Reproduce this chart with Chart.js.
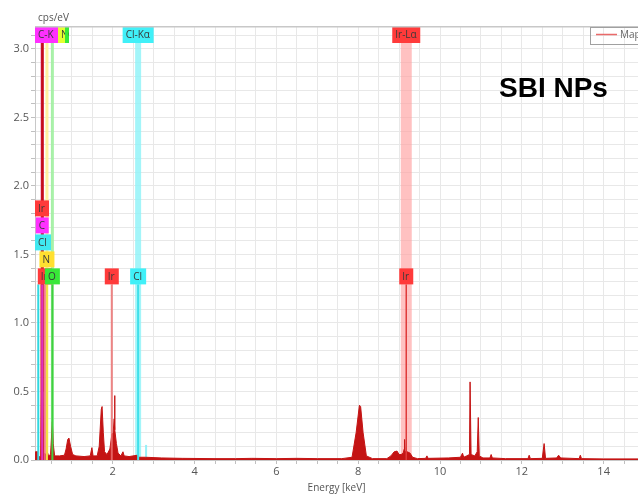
<!DOCTYPE html>
<html>
<head>
<meta charset="utf-8">
<script src="https://cdn.jsdelivr.net/npm/chart.js@4.4.1/dist/chart.umd.min.js"></script>
<style>
  html, body { margin: 0; padding: 0; background: #fff; overflow: hidden; }
  #wrap { width: 638px; height: 496px; }
</style>
</head>
<body>
<div id="wrap"><canvas id="edsChart" width="638" height="496"></canvas></div>
<script>
// spectrum (keV / cps per eV)
var energy = [0.10, 0.11, 0.17, 0.19, 0.24, 0.26, 0.275, 0.29, 0.31, 0.38, 0.40, 0.43, 0.48, 0.51, 0.525, 0.545, 0.58,
  0.70, 0.82, 0.86, 0.90, 0.93, 0.97, 1.02, 1.10, 1.30, 1.45, 1.49, 1.52, 1.62, 1.67, 1.72, 1.74, 1.77, 1.80, 1.86,
  1.93, 1.98, 2.01, 2.035, 2.045, 2.055, 2.09, 2.13, 2.20, 2.25, 2.28, 2.40, 2.60, 2.65, 2.80, 3.20, 3.70, 4.50,
  5.00, 5.40, 6.00, 6.50, 7.00, 7.60, 7.85, 7.95, 8.03, 8.06, 8.12, 8.20, 8.35, 8.70, 8.80, 8.88, 8.95, 9.00,
  9.05, 9.10, 9.125, 9.135, 9.145, 9.20, 9.27, 9.33, 9.45, 9.65, 9.68, 9.71, 10.20, 10.50, 10.55, 10.58, 10.65,
  10.72, 10.735, 10.745, 10.76, 10.85, 10.91, 10.935, 10.945, 10.96, 11.05, 11.22, 11.25, 11.28, 11.60, 12.15,
  12.18, 12.21, 12.50, 12.545, 12.555, 12.58, 12.85, 12.90, 12.95, 13.40, 13.43, 13.46, 14.00, 15.00];
var counts = [0.0, 0.06, 0.06, 0.02, 0.03, 0.5, 4.0, 0.5, 0.05, 0.04, 0.06, 0.03, 0.04, 0.2, 0.28, 0.12, 0.03,
  0.03, 0.035, 0.08, 0.15, 0.16, 0.1, 0.04, 0.03, 0.025, 0.03, 0.09, 0.03, 0.03, 0.1, 0.37, 0.39, 0.2, 0.06, 0.04,
  0.08, 0.19, 0.2, 0.3, 0.47, 0.22, 0.12, 0.05, 0.03, 0.06, 0.03, 0.025, 0.035, 0.02, 0.02, 0.015, 0.012, 0.01,
  0.01, 0.012, 0.01, 0.012, 0.01, 0.01, 0.02, 0.2, 0.40, 0.39, 0.2, 0.03, 0.01, 0.01, 0.03, 0.06, 0.065, 0.04,
  0.04, 0.05, 0.08, 0.15, 0.06, 0.06, 0.05, 0.02, 0.01, 0.012, 0.03, 0.012, 0.015, 0.02, 0.05, 0.02, 0.03,
  0.04, 0.57, 0.57, 0.04, 0.03, 0.06, 0.31, 0.31, 0.03, 0.015, 0.015, 0.04, 0.015, 0.01, 0.01,
  0.035, 0.01, 0.012, 0.12, 0.12, 0.012, 0.015, 0.035, 0.015, 0.01, 0.035, 0.01, 0.008, 0.008];

// element markers with full-height bands and labels at the top
var topNames = ['C-K', 'N-K', 'O-K', 'Cl-Kα', 'Ir-Lα'];
var topEnergies = [0.277, 0.392, 0.525, 2.621, 9.175];

// element markers labelled in the row lower down
var lowNames = ['Ir', 'C', 'Cl', 'N', 'Ir', 'O', 'Ir', 'Cl', 'Ir'];
var lowEnergies = [0.26, 0.277, 0.18, 0.392, 0.34, 0.525, 1.977, 2.621, 9.175];

// faint unlabelled line (Cl Kβ)
var faintEnergies = [2.815];
var faintHeights = [0.11];

// styles
var topBoxColors = ['#ff30ff', '#e4ff30', '#38e838', '#40f0f8', '#ff3a3a'];
var topBandColors = ['#d0105a', 'rgba(255,240,150,0.9)', 'rgba(160,240,160,0.9)', 'rgba(140,242,248,0.8)', 'rgba(255,160,160,0.65)'];
var topBandWidths = [3, 3, 3, 6, 11];
var topBoxWidths = [null, 7, 4, null, null];
var lowBoxColors = ['#ff3a3a', '#ff30ff', '#40e8f0', '#ffe030', '#ff3a3a', '#38e838', '#ff3a3a', '#40f0f8', '#ff3a3a'];
var lowLineColors = ['#e0203a', '#e030c0', '#30d8e0', '#f0e040', 'rgba(240,110,130,0.9)', '#40d040',
  'rgba(235,110,110,0.85)', '#40e0ea', '#e03a3a'];
var lowLineWidths = [2, 2, 2, 2, 2, 2, 2, 2, 1.5];
var lowLevels = [4, 3, 2, 1, 0, 0, 0, 0, 0];
var labelRow = 1.34;
var boxH = 16;
var boxStep = 17;
var labelFont = '10px "Open Sans", sans-serif';

var markerPlugin = {
  id: 'markers',
  beforeDatasetsDraw: function (chart) {
    var ctx = chart.ctx, a = chart.chartArea, xs = chart.scales.x, ys = chart.scales.y;
    ctx.save();
    var bandTop = a.top + boxH;
    topEnergies.forEach(function (e, i) {
      var px = xs.getPixelForValue(e);
      ctx.fillStyle = topBandColors[i];
      ctx.fillRect(px - topBandWidths[i] / 2, bandTop, topBandWidths[i], a.bottom - bandTop);
    });
    faintEnergies.forEach(function (e, i) {
      var px = xs.getPixelForValue(e);
      var py = ys.getPixelForValue(faintHeights[i]);
      ctx.fillStyle = 'rgba(140,240,248,0.9)';
      ctx.fillRect(px - 1, py, 2, a.bottom - py);
    });
    ctx.restore();
  },
  afterDatasetsDraw: function (chart) {
    var ctx = chart.ctx, a = chart.chartArea, xs = chart.scales.x, ys = chart.scales.y;
    ctx.save();
    ctx.font = labelFont;
    ctx.textBaseline = 'middle';

    // lower marker lines
    var rowCenter = ys.getPixelForValue(labelRow);
    var rowBottom = rowCenter + boxH / 2;
    lowEnergies.forEach(function (e, i) {
      var px = xs.getPixelForValue(e);
      ctx.fillStyle = lowLineColors[i];
      ctx.fillRect(px - lowLineWidths[i] / 2, rowBottom, lowLineWidths[i], a.bottom - rowBottom);
    });

    function box(text, left, top, w, color) {
      ctx.fillStyle = color;
      ctx.fillRect(left, top, w, boxH);
      ctx.save();
      ctx.beginPath();
      ctx.rect(left, top, w, boxH);
      ctx.clip();
      ctx.fillStyle = '#3a3a3a';
      ctx.fillText(text, left + 3, top + boxH / 2 + 0.5);
      ctx.restore();
    }

    // lower labels
    lowNames.forEach(function (n, i) {
      var px = xs.getPixelForValue(lowEnergies[i]);
      var w = Math.round(ctx.measureText(n).width) + 7;
      var left = Math.max(a.left, px - w / 2);
      var top = rowCenter - boxH / 2 - lowLevels[i] * boxStep;
      box(n, left, top, w, lowBoxColors[i]);
    });

    // top labels, packed left to right
    var prevRight = a.left;
    topNames.forEach(function (n, i) {
      var px = xs.getPixelForValue(topEnergies[i]);
      var w = topBoxWidths[i] || Math.round(ctx.measureText(n).width) + 7;
      var left = Math.max(prevRight, px - w / 2);
      box(n, left, a.top, w, topBoxColors[i]);
      prevRight = left + w;
    });

    // top frame line
    ctx.fillStyle = '#c8c8c8';
    ctx.fillRect(a.left, a.top - 1, a.right - a.left, 1.5);

    // y unit
    ctx.fillStyle = '#555';
    ctx.font = '10px "Open Sans", sans-serif';
    ctx.textAlign = 'left';
    ctx.fillText('cps/eV', 38, 18);

    // legend (cut by the right edge)
    ctx.strokeStyle = '#a0a0a0';
    ctx.lineWidth = 1;
    ctx.strokeRect(590.5, a.top + 0.5, 60, 17);
    ctx.strokeStyle = 'rgba(232,90,90,0.9)';
    ctx.lineWidth = 1.5;
    ctx.beginPath();
    ctx.moveTo(596, 34.5);
    ctx.lineTo(617, 34.5);
    ctx.stroke();
    ctx.fillStyle = '#666';
    ctx.fillText('Map', 620, 35);

    // sample name
    ctx.fillStyle = '#000';
    ctx.font = 'bold 28px "Liberation Sans", Arial, sans-serif';
    ctx.fillText('SBI NPs', 499, 89);
    ctx.restore();
  }
};

var points = energy.map(function (e, i) { return { x: e, y: counts[i] }; });

new Chart(document.getElementById('edsChart').getContext('2d'), {
  type: 'line',
  data: {
    datasets: [{
      label: 'Map',
      data: points,
      borderColor: '#c41414',
      backgroundColor: '#c41414',
      borderWidth: 1,
      pointRadius: 0,
      tension: 0,
      fill: 'origin'
    }]
  },
  options: {
    responsive: false,
    animation: false,
    devicePixelRatio: 1,
    layout: { padding: { top: 27, left: 0, right: 0, bottom: 0 } },
    plugins: {
      legend: { display: false },
      tooltip: { enabled: false }
    },
    scales: {
      x: {
        type: 'linear',
        min: 0.1,
        max: 14.84,
        afterBuildTicks: function (scale) {
          var t = [];
          for (var i = 1; i <= 29; i++) t.push({ value: i / 2 });
          scale.ticks = t;
        },
        afterFit: function (scale) { scale.height = 36; },
        grid: { color: '#e8e8e8', tickColor: '#c0c0c0', tickLength: 4 },
        border: { color: '#c8c8c8' },
        ticks: {
          autoSkip: false,
          maxRotation: 0,
          padding: 1,
          color: '#555',
          font: { family: '"Open Sans", sans-serif', size: 11 },
          callback: function (value) {
            var v = Math.round(value * 2);
            return v % 4 === 0 ? String(v / 2) : '';
          }
        },
        title: {
          display: true,
          text: 'Energy [keV]',
          color: '#555',
          font: { family: '"Open Sans", sans-serif', size: 10 },
          padding: { top: 0, bottom: 2 }
        }
      },
      y: {
        min: 0,
        max: 3.16,
        afterBuildTicks: function (scale) {
          var t = [];
          for (var i = 0; i <= 31; i++) t.push({ value: i / 10 });
          scale.ticks = t;
        },
        afterFit: function (scale) { scale.width = 35; },
        grid: { color: '#e8e8e8', tickColor: '#c0c0c0', tickLength: 4 },
        border: { color: '#c8c8c8' },
        ticks: {
          autoSkip: false,
          padding: 2,
          color: '#555',
          font: { family: '"Open Sans", sans-serif', size: 11 },
          callback: function (value) {
            var v = Math.round(value * 10);
            return v % 5 === 0 ? (v / 10).toFixed(1) : '';
          }
        }
      }
    }
  },
  plugins: [markerPlugin]
});
</script>
</body>
</html>
